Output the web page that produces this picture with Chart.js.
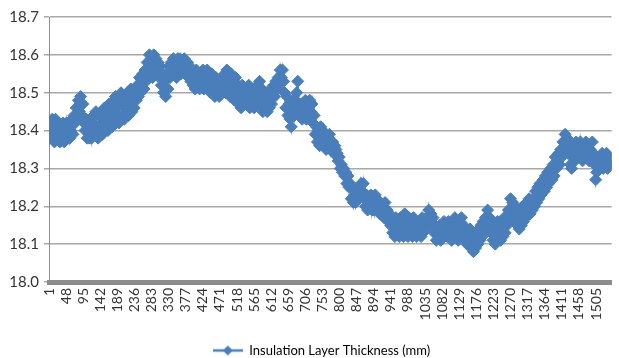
<!DOCTYPE html>
<html>
<head>
<meta charset="utf-8">
<script src="https://cdn.jsdelivr.net/npm/chart.js@4/dist/chart.umd.min.js"></script>
<style>
    html, body { margin: 0; padding: 0; background: #fff; }
    #wrap { width: 619px; height: 358px; }
</style>
</head>
<body>
<div id="wrap"><canvas id="thk01" width="619" height="358"></canvas></div>
<script>
// readings, one every 3 samples (sample no. 1, 4, 7, ...)
const seriesName = 'Insulation Layer Thickness (mm)';
const sampleStep = 3;
const thickness = [
    18.38, 18.42, 18.39, 18.43, 18.40, 18.37, 18.43, 18.41, 18.38, 18.42,
    18.37, 18.41, 18.39, 18.42, 18.37, 18.40, 18.42, 18.38, 18.41, 18.38,
    18.40, 18.43, 18.39, 18.44, 18.42, 18.46, 18.43, 18.48, 18.45, 18.49,
    18.44, 18.47, 18.42, 18.40, 18.43, 18.38, 18.42, 18.38, 18.43, 18.38,
    18.40, 18.44, 18.39, 18.45, 18.41, 18.38, 18.44, 18.40, 18.45, 18.39,
    18.43, 18.46, 18.41, 18.45, 18.40, 18.47, 18.43, 18.46, 18.41, 18.48,
    18.43, 18.49, 18.44, 18.48, 18.42, 18.47, 18.50, 18.44, 18.48, 18.43,
    18.49, 18.45, 18.50, 18.44, 18.48, 18.51, 18.45, 18.50, 18.46, 18.49,
    18.48, 18.52, 18.49, 18.54, 18.50, 18.53, 18.55, 18.51, 18.56, 18.53,
    18.58, 18.55, 18.60, 18.56, 18.59, 18.54, 18.60, 18.57, 18.59, 18.55,
    18.58, 18.54, 18.57, 18.52, 18.55, 18.50, 18.53, 18.49, 18.55, 18.51,
    18.57, 18.54, 18.58, 18.55, 18.59, 18.56, 18.58, 18.54, 18.59, 18.56,
    18.59, 18.55, 18.58, 18.56, 18.59, 18.55, 18.57, 18.58, 18.54, 18.57,
    18.53, 18.56, 18.52, 18.55, 18.51, 18.56, 18.53, 18.55, 18.51, 18.54,
    18.52, 18.56, 18.51, 18.55, 18.53, 18.56, 18.52, 18.54, 18.50, 18.55,
    18.50, 18.53, 18.49, 18.54, 18.50, 18.52, 18.49, 18.53, 18.50, 18.54,
    18.51, 18.55, 18.50, 18.56, 18.52, 18.54, 18.49, 18.55, 18.51, 18.53,
    18.48, 18.54, 18.48, 18.52, 18.47, 18.51, 18.46, 18.52, 18.47, 18.50,
    18.47, 18.51, 18.48, 18.52, 18.46, 18.50, 18.48, 18.51, 18.46, 18.50,
    18.49, 18.52, 18.47, 18.53, 18.48, 18.51, 18.45, 18.50, 18.46, 18.49,
    18.45, 18.50, 18.46, 18.51, 18.47, 18.50, 18.52, 18.49, 18.53, 18.51,
    18.54, 18.52, 18.56, 18.54, 18.56, 18.53, 18.50, 18.46, 18.49, 18.44,
    18.47, 18.43, 18.41, 18.45, 18.48, 18.44, 18.46, 18.50, 18.53, 18.47,
    18.44, 18.47, 18.43, 18.46, 18.44, 18.48, 18.43, 18.47, 18.44, 18.48,
    18.45, 18.47, 18.42, 18.44, 18.39, 18.41, 18.37, 18.40, 18.36, 18.41,
    18.38, 18.40, 18.36, 18.39, 18.35, 18.38, 18.36, 18.39, 18.35, 18.37,
    18.37, 18.34, 18.36, 18.35, 18.34, 18.32, 18.33, 18.30, 18.31, 18.29,
    18.30, 18.28, 18.29, 18.26, 18.28, 18.25, 18.26, 18.22, 18.25, 18.21,
    18.23, 18.21, 18.24, 18.22, 18.25, 18.23, 18.26, 18.24, 18.26, 18.22,
    18.20, 18.23, 18.19, 18.22, 18.20, 18.23, 18.19, 18.21, 18.19, 18.23,
    18.22, 18.19, 18.21, 18.18, 18.21, 18.19, 18.20, 18.17, 18.21, 18.18,
    18.19, 18.16, 18.18, 18.15, 18.17, 18.13, 18.16, 18.12, 18.17, 18.13,
    18.16, 18.12, 18.17, 18.13, 18.15, 18.12, 18.18, 18.14, 18.16, 18.12,
    18.17, 18.13, 18.15, 18.12, 18.17, 18.14, 18.16, 18.12, 18.15, 18.13,
    18.16, 18.12, 18.17, 18.13, 18.15, 18.14, 18.17, 18.15, 18.19, 18.17,
    18.18, 18.15, 18.17, 18.13, 18.15, 18.11, 18.14, 18.12, 18.15, 18.11,
    18.14, 18.12, 18.16, 18.13, 18.15, 18.12, 18.16, 18.13, 18.14, 18.11,
    18.16, 18.12, 18.17, 18.13, 18.16, 18.11, 18.15, 18.12, 18.17, 18.13,
    18.15, 18.12, 18.14, 18.10, 18.13, 18.11, 18.14, 18.09, 18.12, 18.08,
    18.11, 18.09, 18.13, 18.10, 18.14, 18.11, 18.15, 18.12, 18.16, 18.13,
    18.17, 18.14, 18.19, 18.15, 18.17, 18.13, 18.15, 18.11, 18.14, 18.10,
    18.13, 18.16, 18.12, 18.15, 18.11, 18.16, 18.12, 18.17, 18.13, 18.16,
    18.15, 18.19, 18.17, 18.22, 18.18, 18.21, 18.16, 18.20, 18.17, 18.15,
    18.19, 18.14, 18.18, 18.15, 18.20, 18.16, 18.19, 18.17, 18.21, 18.18,
    18.22, 18.18, 18.21, 18.19, 18.22, 18.20, 18.24, 18.21, 18.25, 18.22,
    18.26, 18.23, 18.25, 18.27, 18.24, 18.28, 18.25, 18.29, 18.26, 18.28,
    18.30, 18.27, 18.31, 18.28, 18.33, 18.30, 18.32, 18.34, 18.31, 18.35,
    18.33, 18.37, 18.34, 18.39, 18.36, 18.38, 18.34, 18.36, 18.31, 18.30,
    18.33, 18.36, 18.32, 18.37, 18.34, 18.36, 18.33, 18.37, 18.35, 18.32,
    18.36, 18.33, 18.37, 18.34, 18.36, 18.32, 18.35, 18.33, 18.37, 18.34,
    18.31, 18.27, 18.29, 18.32, 18.30, 18.33, 18.31, 18.34, 18.30, 18.33,
    18.31, 18.34, 18.30, 18.33, 18.31, 18.32,
];
const xTickLabels = [1, 48, 95, 142, 189, 236, 283, 330, 377, 424, 471, 518, 565, 612, 659, 706,
    753, 800, 847, 894, 941, 988, 1035, 1082, 1129, 1176, 1223, 1270, 1317, 1364, 1411, 1458, 1505];
const xMax = 1548;
const yTickLabels = ['18.0', '18.1', '18.2', '18.3', '18.4', '18.5', '18.6', '18.7'];

const BLUE = '#4a7ebb';
const GRID = '#a8a8a8';
const AXIS = '#8c8c8c';
const TEXT = '#333333';
const FONT = 'Lato, "Liberation Sans", sans-serif';

// legend symbol: short line with a diamond on it
function legendSymbol() {
    const c = document.createElement('canvas');
    c.width = 30;
    c.height = 12;
    const g = c.getContext('2d');
    g.strokeStyle = BLUE;
    g.lineWidth = 2.5;
    g.beginPath();
    g.moveTo(0, 6);
    g.lineTo(30, 6);
    g.stroke();
    g.fillStyle = BLUE;
    g.beginPath();
    g.moveTo(15, 1);
    g.lineTo(20, 6);
    g.lineTo(15, 11);
    g.lineTo(10, 6);
    g.closePath();
    g.fill();
    return c;
}

// the legend sits a little lower and right of Chart.js' default spot
const legendNudge = {
    id: 'legendNudge',
    afterLayout(chart) {
        const lg = chart.legend;
        lg.top += 9;
        lg.bottom += 9;
        lg.left += 12;
        lg.right += 12;
    },
};

const points = thickness.map((v, i) => ({ x: 1 + i * sampleStep, y: v }));
const ctx = document.getElementById('thk01').getContext('2d');
const symbol = legendSymbol();

const chart = new Chart(ctx, {
    type: 'line',
    data: {
        datasets: [{
            label: seriesName,
            data: points,
            borderColor: BLUE,
            backgroundColor: BLUE,
            borderWidth: 2,
            pointStyle: 'rectRot',
            pointRadius: 6,
            pointBorderWidth: 1,
            pointBorderColor: BLUE,
            pointBackgroundColor: BLUE,
            tension: 0,
        }],
    },
    options: {
        responsive: false,
        animation: false,
        devicePixelRatio: 1,
        layout: {
            padding: { top: 17, left: 0, right: 0, bottom: 0 },
        },
        plugins: {
            tooltip: { enabled: false },
            legend: {
                position: 'bottom',
                labels: {
                    usePointStyle: true,
                    pointStyleWidth: 30,
                    padding: 0,
                    color: TEXT,
                    font: { family: FONT, size: 13 },
                    generateLabels: () => [{
                        text: seriesName,
                        pointStyle: symbol,
                        fillStyle: BLUE,
                        strokeStyle: BLUE,
                        lineWidth: 0,
                        datasetIndex: 0,
                    }],
                },
            },
        },
        scales: {
            x: {
                type: 'linear',
                min: 1,
                max: xMax,
                afterBuildTicks(axis) {
                    axis.ticks = xTickLabels.map(v => ({ value: v }));
                },
                afterFit(scale) {
                    scale.height = 53;
                },
                grid: { display: false, drawTicks: false },
                border: { display: true, color: AXIS, width: 5 },
                ticks: {
                    autoSkip: false,
                    minRotation: 90,
                    maxRotation: 90,
                    padding: 6,
                    color: TEXT,
                    font: { family: FONT, size: 14 },
                    callback: v => String(v),
                },
            },
            y: {
                min: 18.0,
                max: 18.7,
                afterBuildTicks(axis) {
                    axis.ticks = yTickLabels.map(s => ({ value: Number(s) }));
                },
                afterFit(scale) {
                    scale.width = 49;
                },
                grid: {
                    color: GRID,
                    lineWidth: 1.5,
                    tickLength: 5,
                    drawTicks: true,
                },
                border: { display: true, color: AXIS, width: 1 },
                ticks: {
                    padding: 5,
                    color: TEXT,
                    font: { family: FONT, size: 15 },
                    callback: v => Number(v).toFixed(1),
                },
            },
        },
    },
    plugins: [legendNudge],
});
</script>
</body>
</html>
